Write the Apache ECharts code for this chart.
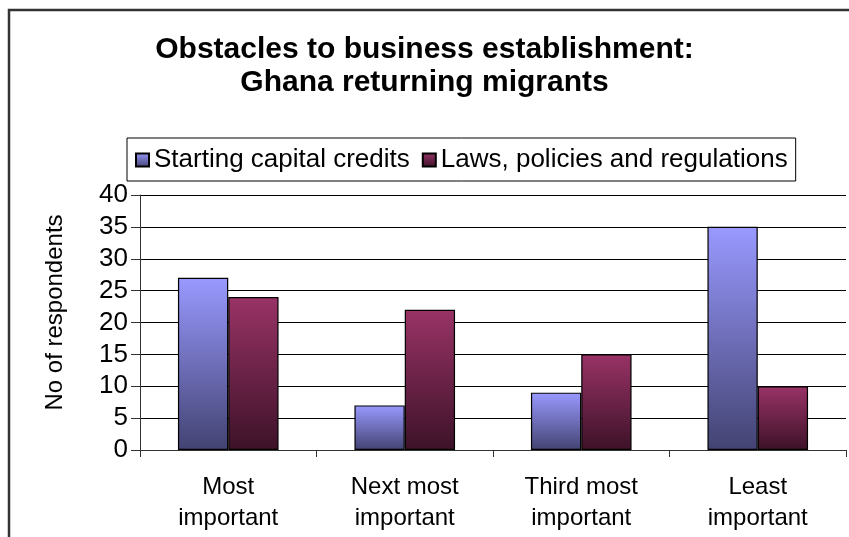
<!DOCTYPE html>
<html>
<head>
<meta charset="utf-8">
<script src="https://cdn.jsdelivr.net/npm/echarts@6/dist/echarts.min.js"></script>
<style>
  html, body { margin: 0; padding: 0; background: #fff; }
  #chart { width: 849px; height: 537px; }
</style>
</head>
<body>
<div id="chart"></div>
<script>
// data
var categories = ['Most\nimportant', 'Next most\nimportant', 'Third most\nimportant', 'Least\nimportant'];
var startingCapital = [27, 7, 9, 35];
var lawsPolicies = [24, 22, 15, 10];
var seriesNames = ['Starting capital credits', 'Laws, policies and regulations'];

var FONT = '"Liberation Sans", Arial, sans-serif';

function grad(top, bottom) {
    return new echarts.graphic.LinearGradient(0, 0, 0, 1, [
        { offset: 0, color: top },
        { offset: 1, color: bottom }
    ]);
}

var myChart = echarts.init(document.getElementById('chart'));

myChart.setOption({
    animation: false,
    backgroundColor: '#fff',
    textStyle: { fontFamily: FONT },
    graphic: [{
        // outer chart frame (runs off the right and bottom of the picture)
        type: 'rect',
        shape: { x: 9, y: 10, width: 900, height: 600 },
        style: { fill: 'none', stroke: '#333', lineWidth: 2.5 },
        silent: true
    }],
    title: {
        text: 'Obstacles to business establishment:\nGhana returning migrants',
        left: 'center',
        top: 28,
        textStyle: {
            fontFamily: FONT,
            fontSize: 30,
            fontWeight: 'bold',
            lineHeight: 33,
            color: '#000'
        }
    },
    legend: {
        top: 138,
        left: 127,
        data: seriesNames,
        icon: 'rect',
        itemWidth: 13,
        itemHeight: 13,
        itemGap: 12,
        padding: [9, 8, 8, 8],
        borderColor: '#000',
        borderWidth: 1,
        textStyle: { fontFamily: FONT, fontSize: 26, color: '#000' }
    },
    grid: {
        left: 140,
        right: 3,
        top: 195,
        bottom: 87,
        containLabel: false
    },
    xAxis: {
        type: 'category',
        data: categories,
        axisLine: { lineStyle: { color: '#333', width: 1 } },
        axisTick: { show: true, length: 7, lineStyle: { color: '#333' } },
        axisLabel: {
            margin: 22,
            fontFamily: FONT,
            fontSize: 24,
            lineHeight: 31,
            color: '#000'
        }
    },
    yAxis: {
        type: 'value',
        min: 0,
        max: 40,
        interval: 5,
        name: 'No of respondents',
        nameLocation: 'middle',
        nameGap: 73,
        nameRotate: 90,
        nameTextStyle: { fontFamily: FONT, fontSize: 24, color: '#000', padding: [0, 0, 0, 20] },
        axisLine: { show: true, lineStyle: { color: '#333', width: 1 } },
        axisTick: { show: true, length: 9, lineStyle: { color: '#333' } },
        axisLabel: { margin: 12, fontFamily: FONT, fontSize: 26, color: '#000' },
        splitLine: { show: true, lineStyle: { color: '#000', width: 1 } }
    },
    series: [
        {
            name: seriesNames[0],
            type: 'bar',
            data: startingCapital,
            barGap: '0%',
            barCategoryGap: '43%',
            itemStyle: {
                color: grad('#9999ff', '#434372'),
                borderColor: '#000',
                borderWidth: 1.2
            }
        },
        {
            name: seriesNames[1],
            type: 'bar',
            data: lawsPolicies,
            itemStyle: {
                color: grad('#993366', '#3d1228'),
                borderColor: '#000',
                borderWidth: 1.2
            }
        }
    ]
});
</script>
</body>
</html>
